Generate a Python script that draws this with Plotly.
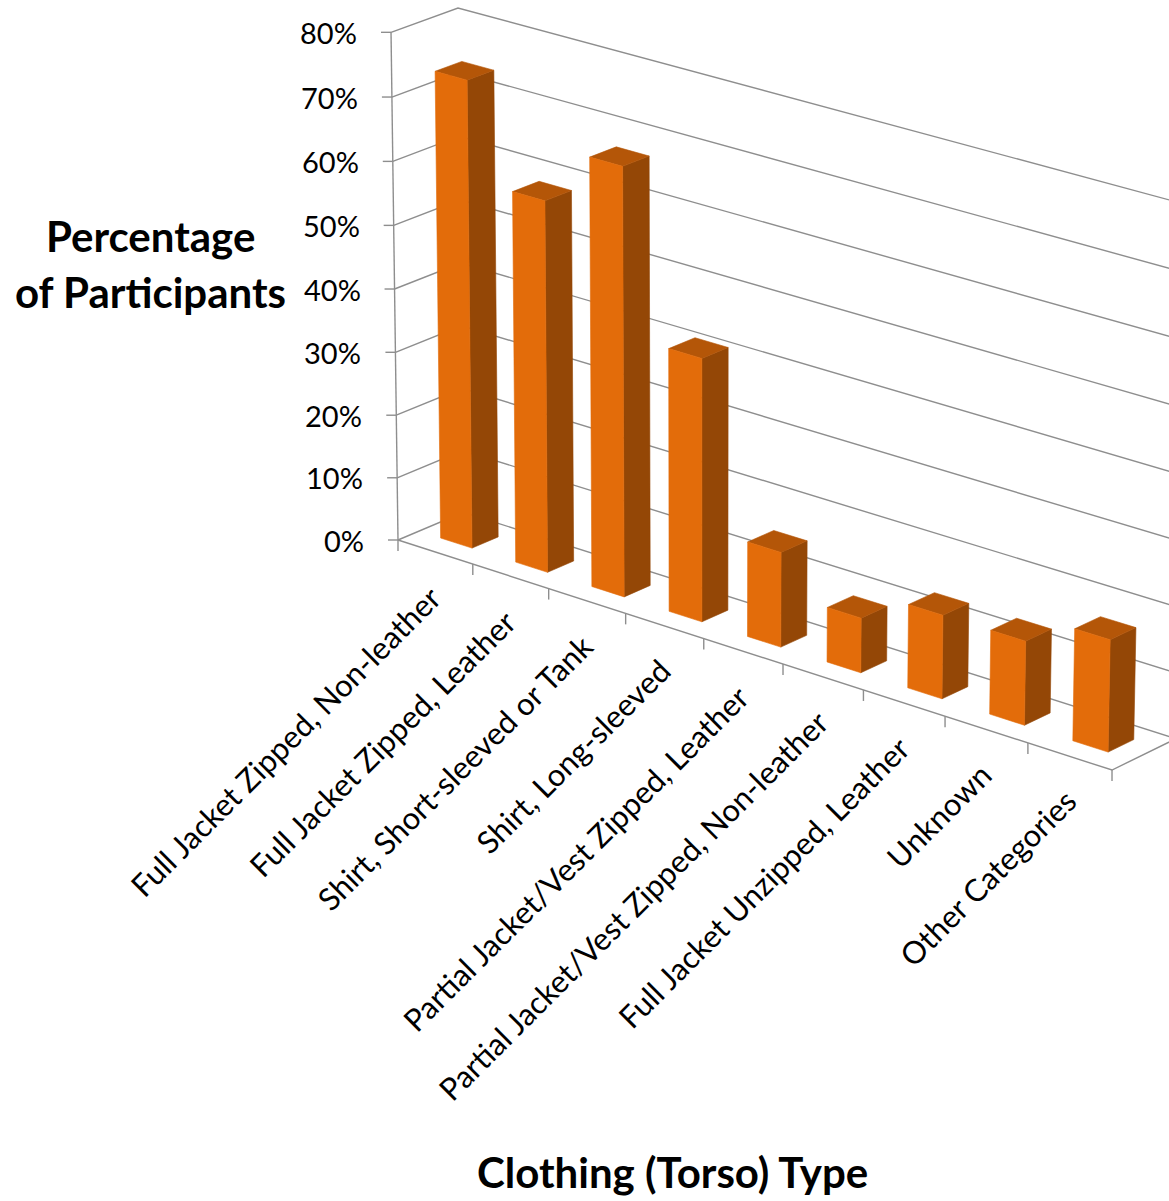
import plotly.graph_objects as go

# ---- data -------------------------------------------------------------
categories = [
    "Full Jacket Zipped, Non-leather",
    "Full Jacket Zipped, Leather",
    "Shirt, Short-sleeved or Tank",
    "Shirt, Long-sleeved",
    "Partial Jacket/Vest Zipped, Leather",
    "Partial Jacket/Vest Zipped, Non-leather",
    "Full Jacket Unzipped, Leather",
    "Unknown",
    "Other Categories",
]
percent = [73.7, 58.4, 67.1, 41.1, 14.8, 8.5, 12.9, 12.9, 17.1]
value_ticks = [0, 10, 20, 30, 40, 50, 60, 70, 80]
value_tick_labels = [f"{t}%" for t in value_ticks]

# ---- 3-D look ---------------------------------------------------------
# Perspective camera as a homogeneous matrix acting on
# (1, category position, depth 0..1, value/10)
CAM_X = [398.0, 71.45, 69.0, -1.96]
CAM_Y = [540.0, 20.1, -23.72, -63.55]
CAM_W = [1.0, -0.00709, 0.00767, -0.00278]

BAR_X = (0.29, 0.71)     # bar footprint inside its category slot
BAR_D = (0.32, 0.72)     # bar footprint along the depth axis

FRONT = "#E36C0A"
SIDE = "#944706"
TOP = "#B45608"
GRID = "#8E8E8E"
FONT = "Lato"

W, H = 1169, 1201
n = len(categories)
vmax = value_ticks[-1]


def project(c, d, v):
    z = v / 10.0
    vec = (1.0, c, d, z)
    w = sum(a * b for a, b in zip(CAM_W, vec))
    sx = sum(a * b for a, b in zip(CAM_X, vec)) / w
    sy = sum(a * b for a, b in zip(CAM_Y, vec)) / w
    return sx, sy


def path(points):
    xs, ys = [], []
    for p in points:
        if p is None:
            xs.append(None)
            ys.append(None)
        else:
            sx, sy = project(*p)
            xs.append(sx)
            ys.append(sy)
    return xs, ys


fig = go.Figure()

# walls: side-wall and back-wall gridlines
grid_pts = []
for t in value_ticks:
    grid_pts += [(0, 0, t), (0, 1, t), (n, 1, t), None]
gx, gy = path(grid_pts)
fig.add_trace(go.Scatter(x=gx, y=gy, mode="lines",
                         line=dict(color=GRID, width=1.4),
                         hoverinfo="skip", showlegend=False))

# floor edges and value axis line
edge_pts = [(0, 0, 0), (n, 0, 0), (n, 1, 0), None,
            (0, 0, 0), (0, 0, vmax), None]
ex, ey = path(edge_pts)

# category tick marks hang straight down from the front floor edge
for i in range(n + 1):
    sx, sy = project(i, 0, 0)
    ex += [sx, sx, None]
    ey += [sy, sy + 11, None]
# value tick marks point left from the axis line
for t in value_ticks:
    sx, sy = project(0, 0, t)
    ex += [sx, sx - 10, None]
    ey += [sy, sy, None]
fig.add_trace(go.Scatter(x=ex, y=ey, mode="lines",
                         line=dict(color=GRID, width=1.4),
                         hoverinfo="skip", showlegend=False))

# bars: front face, right face, top face
fronts, sides, tops = [], [], []
for i, v in enumerate(percent):
    x1, x2 = i + BAR_X[0], i + BAR_X[1]
    d1, d2 = BAR_D
    fronts += [(x1, d1, 0), (x2, d1, 0), (x2, d1, v), (x1, d1, v), (x1, d1, 0), None]
    sides += [(x2, d1, 0), (x2, d2, 0), (x2, d2, v), (x2, d1, v), (x2, d1, 0), None]
    tops += [(x1, d1, v), (x2, d1, v), (x2, d2, v), (x1, d2, v), (x1, d1, v), None]

for pts, col in ((sides, SIDE), (tops, TOP), (fronts, FRONT)):
    px, py = path(pts)
    fig.add_trace(go.Scatter(x=px, y=py, mode="lines", fill="toself",
                             fillcolor=col, line=dict(color=col, width=0.6),
                             hoverinfo="skip", showlegend=False))

annotations = []

# value tick labels
for t, lab in zip(value_ticks, value_tick_labels):
    sx, sy = project(0, 0, t)
    annotations.append(dict(x=sx - 32, y=sy, xref="x", yref="y", text=lab,
                            showarrow=False, xanchor="right", yanchor="middle",
                            font=dict(family=FONT, size=29, color="black")))

# category labels, rotated
for i, lab in enumerate(categories):
    sx, sy = project(i + 0.5, 0, 0)
    annotations.append(dict(x=sx + 16, y=sy + 23, xref="x", yref="y", text=lab,
                            showarrow=False, xanchor="right", yanchor="top",
                            textangle=-45,
                            font=dict(family=FONT, size=31, color="black")))

# axis titles
annotations.append(dict(x=150, y=236, xref="x", yref="y", text="<b>Percentage</b>",
                        showarrow=False, xanchor="center", yanchor="middle",
                        font=dict(family=FONT, size=42, color="black")))
annotations.append(dict(x=150, y=292, xref="x", yref="y", text="<b>of Participants</b>",
                        showarrow=False, xanchor="center", yanchor="middle",
                        font=dict(family=FONT, size=42, color="black")))
annotations.append(dict(x=672, y=1172, xref="x", yref="y",
                        text="<b>Clothing (Torso) Type</b>",
                        showarrow=False, xanchor="center", yanchor="middle",
                        font=dict(family=FONT, size=42, color="black")))

fig.update_layout(
    width=W, height=H,
    margin=dict(l=0, r=0, t=0, b=0),
    paper_bgcolor="white", plot_bgcolor="white",
    xaxis=dict(range=[0, W], visible=False, fixedrange=True),
    yaxis=dict(range=[H, 0], visible=False, fixedrange=True),
    annotations=annotations,
    showlegend=False,
)

fig.write_html("out.html")
